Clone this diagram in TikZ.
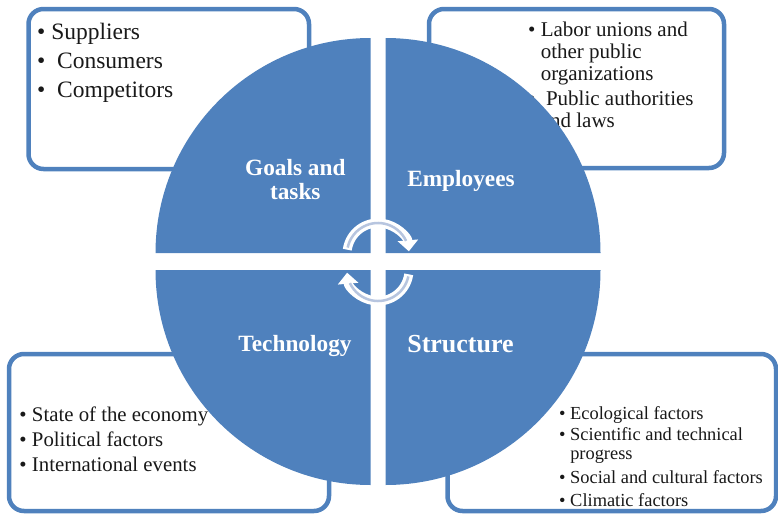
\documentclass[tikz,border=0pt]{standalone}
\usepackage{fontspec}
\setmainfont{Liberation Serif}
\usetikzlibrary{positioning,arrows.meta}
\definecolor{matrixblue}{HTML}{4F81BD}
\definecolor{arrowtrace}{HTML}{B7C5DF}

\begin{document}
\begin{tikzpicture}[x=1pt, y=-1pt]
        \tikzstyle{envbox} = [rectangle, draw=matrixblue, line width=4.5pt, rounded corners=15pt, fill=white]
        \tikzstyle{factors} = [anchor=north west, inner sep=0pt, align=left, text=black!90]
        \tikzstyle{quarter} = [fill=matrixblue]
        \tikzstyle{sector} = [inner sep=0pt, align=center, text=white, font=\bfseries\fontsize{23.3}{24}\selectfont]
        \tikzstyle{turn} = [draw=white, line width=9pt]
        \tikzstyle{trace} = [draw=arrowtrace, line width=2.5pt]
        \useasboundingbox (0,0) rectangle (778,514);
        % outer boxes
        \node [envbox, minimum width=280.5pt, minimum height=160pt] (marketbox) at (168.75,89) {};
        \node [envbox, minimum width=295pt, minimum height=159pt] (societybox) at (576.5,88.5) {};
        \node [envbox, minimum width=320pt, minimum height=157pt] (macrobox) at (169,432.5) {};
        \node [envbox, minimum width=328.5pt, minimum height=157pt] (naturebox) at (611.75,432.5) {};
        \node [factors, font=\fontsize{23.5}{29}\selectfont] (market) at (37,19) {\strut\textbullet\ Suppliers\\ \textbullet\ \ Consumers\\ \textbullet\ \ Competitors};
        \node [factors, font=\fontsize{21}{22}\selectfont] (society) at (528,21.3) {\strut\textbullet\ Labor unions and\\ \hphantom{\textbullet\ }other public\\ \hphantom{\textbullet\ }organizations\\[3pt] \textbullet\ \ Public authorities\\ \hphantom{\textbullet\ }and laws};
        \node [factors, font=\fontsize{20.8}{25}\selectfont] (macro) at (19.3,404.2) {\strut\textbullet\ State of the economy\\ \textbullet\ Political factors\\ \textbullet\ International events};
        \node [factors, font=\fontsize{18.4}{19}\selectfont] (nature) at (559,405.7) {\strut\textbullet\ Ecological factors\\[2.7pt] \textbullet\ Scientific and technical\\ \hphantom{\textbullet\ }progress\\[4.4pt] \textbullet\ Social and cultural factors\\[4pt] \textbullet\ Climatic factors};
        % the four quarters
        \fill [quarter] (370.5,253) -- ++(-215,0) arc[start angle=180, end angle=270, radius=215] -- cycle;
        \fill [quarter] (385.5,253) -- ++(0,-215) arc[start angle=270, end angle=360, radius=215] -- cycle;
        \fill [quarter] (385.5,270) -- ++(215,0) arc[start angle=0, end angle=90, radius=215] -- cycle;
        \fill [quarter] (370.5,270) -- ++(0,215) arc[start angle=90, end angle=180, radius=215] -- cycle;
        \node [sector] (goals) at (295.3,182.2) {\strut Goals and\\ tasks\strut};
        \node [sector] (staff) at (461,181.9) {\strut Employees};
        \node [sector] (tech) at (295,346.9) {\strut Technology};
        \node [sector, font=\bfseries\fontsize{26}{28}\selectfont] (struct) at (460.5,346.4) {\strut Structure};
        % cycle arrows
        \coordinate (upturn) at (378,254);
        \coordinate (downturn) at (378,270);
        \draw [turn, -{Triangle[width=20pt,length=11pt]}] ([shift={(188:31)}]upturn) arc[start angle=188, end angle=355, radius=31];
        \draw [trace] ([shift={(192:31)}]upturn) arc[start angle=192, end angle=335, radius=31];
        \draw [turn, -{Triangle[width=20pt,length=11pt]}] ([shift={(8:31)}]downturn) arc[start angle=8, end angle=175, radius=31];
        \draw [trace] ([shift={(12:31)}]downturn) arc[start angle=12, end angle=155, radius=31];
    \end{tikzpicture}
\end{document}
